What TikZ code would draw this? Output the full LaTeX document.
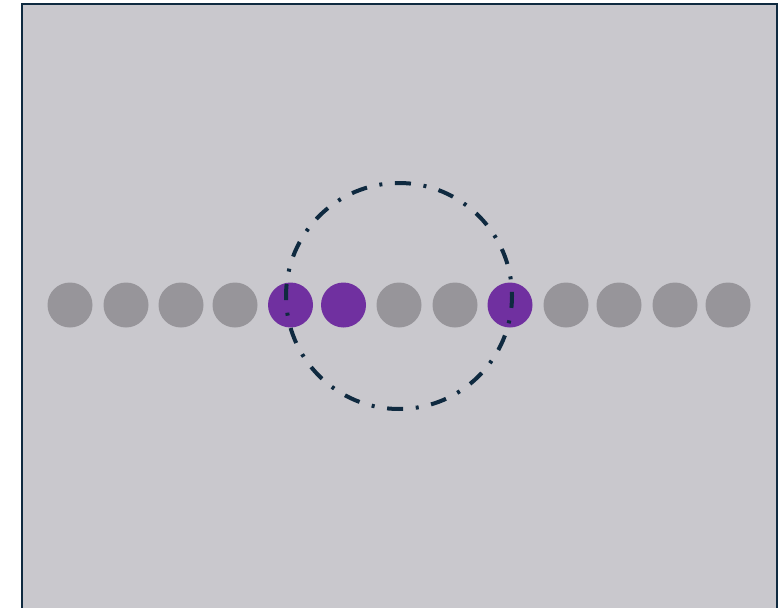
\documentclass[tikz,border=0pt]{standalone}
\begin{document}
\begin{tikzpicture}[x=1pt,y=-1pt,
  dot/.style={circle,inner sep=0pt,minimum size=45pt},
  graydot/.style={dot,fill=dotgray},
  purpdot/.style={dot,fill=dotpurple}]
\definecolor{bg}{HTML}{C9C8CD}
\definecolor{frame}{HTML}{0F2A40}
\definecolor{dotgray}{HTML}{97959A}
\definecolor{dotpurple}{HTML}{7030A0}
\useasboundingbox (0,0) rectangle (778,607);
\fill[white] (0,0) rectangle (778,607);
\draw[frame,line width=2pt,fill=bg] (22,4) rectangle (777,620);
\foreach \x/\n in {70/a,126/b,181/c,235/d,399/g,455/h,566/j,619/k,675/l,728/m}
  \node[graydot] (\n) at (\x,305) {};
\node[purpdot] (e) at (290.5,305) {};
\node[purpdot] (f) at (343.5,305) {};
\node[purpdot] (i) at (510,305) {};
\coordinate (ctr) at (399,296);
\draw[frame,line width=4pt,dash pattern=on 16pt off 12.69pt on 3pt off 12.69pt,dash phase=4.1pt] (ctr) circle[radius=113];
\end{tikzpicture}
\end{document}
